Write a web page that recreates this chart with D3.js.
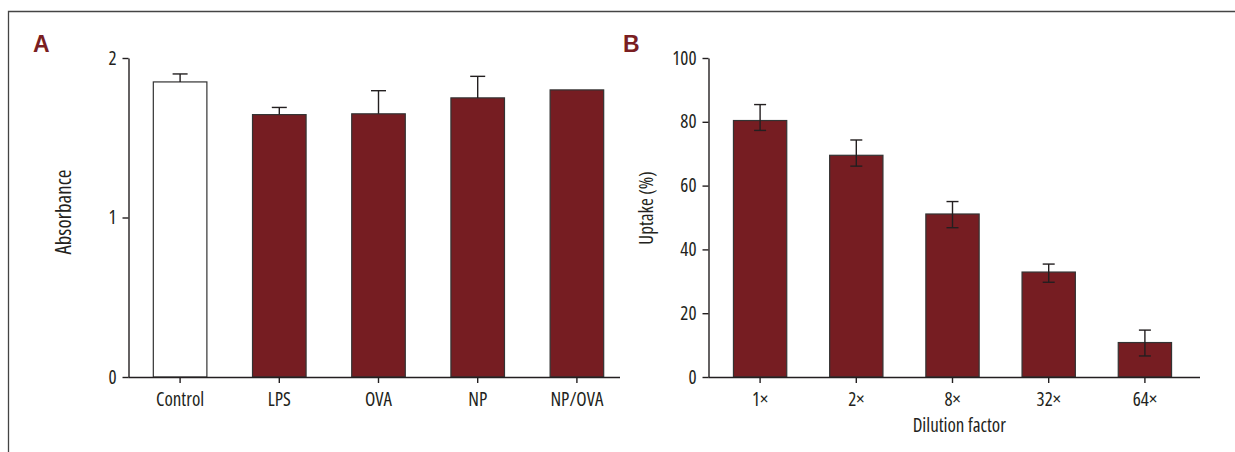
<!DOCTYPE html>
<html>
<head>
<meta charset="utf-8">
<script src="https://cdn.jsdelivr.net/npm/d3@7"></script>
<style>
  body { margin: 0; background: #fff; }
  svg text { font-family: "Open Sans", "DejaVu Sans Condensed", sans-serif; font-stretch: 75%; fill: #231f20; }
</style>
</head>
<body>
<svg id="chart" width="1235" height="452"></svg>
<script>
// Panel A: absorbance per group (error bar = upper limit only)
var groupsA = ["Control", "LPS", "OVA", "NP", "NP/OVA"];
var valuesA = [1.85, 1.645, 1.65, 1.75, 1.80];
var errTopA = [1.90, 1.69, 1.795, 1.885, null];
var ticksA  = [0, 1, 2];

// Panel B: uptake per dilution factor (mean with lower / upper limits)
var dilutions = ["1×", "2×", "8×", "32×", "64×"];
var uptake    = [80.4, 69.5, 51.1, 32.9, 10.8];
var errLowB   = [77.3, 66.1, 46.8, 29.7, 6.6];
var errHighB  = [85.4, 74.3, 55.0, 35.4, 14.7];
var ticksB    = [0, 20, 40, 60, 80, 100];

var barColor = "#761d22",
    lineColor = "#231f20";

var svg = d3.select("#chart");

// frame
svg.append("path")
  .attr("d", "M8.5,452 V11.5 H1235")
  .attr("fill", "none")
  .attr("stroke", "#444")
  .attr("stroke-width", 1.3);

function drawPanel(opt) {
    var g = svg.append("g");

    var x = d3.scaleBand()
      .domain(opt.cats)
      .range(opt.xRange)
      .paddingInner(opt.pad)
      .paddingOuter(opt.pad / 2);

    var y = d3.scaleLinear().domain(opt.yDomain).range([377, 58]);

    // bars
    g.selectAll("rect.bar")
      .data(opt.values)
      .enter().append("rect")
      .attr("class", "bar")
      .attr("x", function(d, i) { return x(opt.cats[i]); })
      .attr("width", x.bandwidth())
      .attr("y", function(d) { return y(d); })
      .attr("height", function(d) { return y(0) - y(d); })
      .attr("fill", function(d, i) { return opt.fills[i]; })
      .attr("stroke", "#333")
      .attr("stroke-width", 1.2);

    // error bars
    opt.values.forEach(function(v, i) {
        var hi = opt.hi[i];
        if (hi == null) return;
        var lo = opt.lo ? opt.lo[i] : v;
        var cx = x(opt.cats[i]) + x.bandwidth() / 2;
        var err = g.append("g")
          .attr("stroke", lineColor)
          .attr("stroke-width", 1.4);
        err.append("line")
          .attr("x1", cx).attr("x2", cx)
          .attr("y1", y(lo)).attr("y2", y(hi));
        err.append("line")
          .attr("x1", cx - opt.cap).attr("x2", cx + opt.cap)
          .attr("y1", y(hi)).attr("y2", y(hi));
        if (opt.lo) {
            err.append("line")
              .attr("x1", cx - opt.cap).attr("x2", cx + opt.cap)
              .attr("y1", y(lo)).attr("y2", y(lo));
        }
    });

    // y axis
    var yAxis = g.append("g")
      .attr("transform", "translate(" + opt.axisX + ",0)")
      .call(d3.axisLeft(y).tickValues(opt.ticks).tickFormat(d3.format("d"))
        .tickSize(6).tickPadding(6).tickSizeOuter(0));

    // x axis
    var xAxis = g.append("g")
      .attr("transform", "translate(0," + y(0) + ")")
      .call(d3.axisBottom(x).tickSize(6).tickPadding(10).tickSizeOuter(0));
    xAxis.select(".domain")
      .attr("d", "M" + opt.axisX + ",0.5H" + opt.xEnd);

    [yAxis, xAxis].forEach(function(a) {
        a.selectAll(".domain").attr("stroke", lineColor).attr("stroke-width", 1.4);
        a.selectAll(".tick line").attr("stroke", lineColor).attr("stroke-width", 1.4);
        a.selectAll(".tick text")
          .style("font-size", "19px")
          .attr("fill", lineColor);
    });

    // y title
    g.append("text")
      .attr("transform", "translate(" + opt.yTitleX + "," + opt.yTitleY + ") rotate(-90)")
      .attr("text-anchor", "middle")
      .style("font-size", opt.yTitleSize + "px")
      .text(opt.yTitle);

    if (opt.xTitle) {
        g.append("text")
          .attr("x", (opt.axisX + opt.xEnd) / 2 + 5)
          .attr("y", 432)
          .attr("text-anchor", "middle")
          .style("font-size", "19px")
          .text(opt.xTitle);
    }

    // panel letter
    g.append("text")
      .attr("x", opt.letterX)
      .attr("y", 52)
      .style("font-family", "'Liberation Sans', Arial, sans-serif")
      .style("font-stretch", "normal")
      .style("font-weight", "bold")
      .style("font-size", "23px")
      .style("fill", "#7a1e22")
      .text(opt.letter);
}

drawPanel({
    cats: groupsA,
    values: valuesA,
    hi: errTopA,
    lo: null,
    fills: groupsA.map(function(d, i) { return i == 0 ? "#fff" : barColor; }),
    yDomain: [0, 2],
    ticks: ticksA,
    xRange: [130.5, 626.5],
    pad: 0.46,
    axisX: 128.5,
    xEnd: 620,
    cap: 7.5,
    yTitle: "Absorbance",
    yTitleSize: 21,
    yTitleX: 71,
    yTitleY: 212,
    letter: "A",
    letterX: 33
});

drawPanel({
    cats: dilutions,
    values: uptake,
    hi: errHighB,
    lo: errLowB,
    fills: dilutions.map(function() { return barColor; }),
    yDomain: [0, 100],
    ticks: ticksB,
    xRange: [712, 1193],
    pad: 0.446,
    axisX: 708.5,
    xEnd: 1200,
    cap: 6,
    yTitle: "Uptake (%)",
    yTitleSize: 19,
    yTitleX: 653,
    yTitleY: 208,
    xTitle: "Dilution factor",
    letter: "B",
    letterX: 623
});
</script>
</body>
</html>
